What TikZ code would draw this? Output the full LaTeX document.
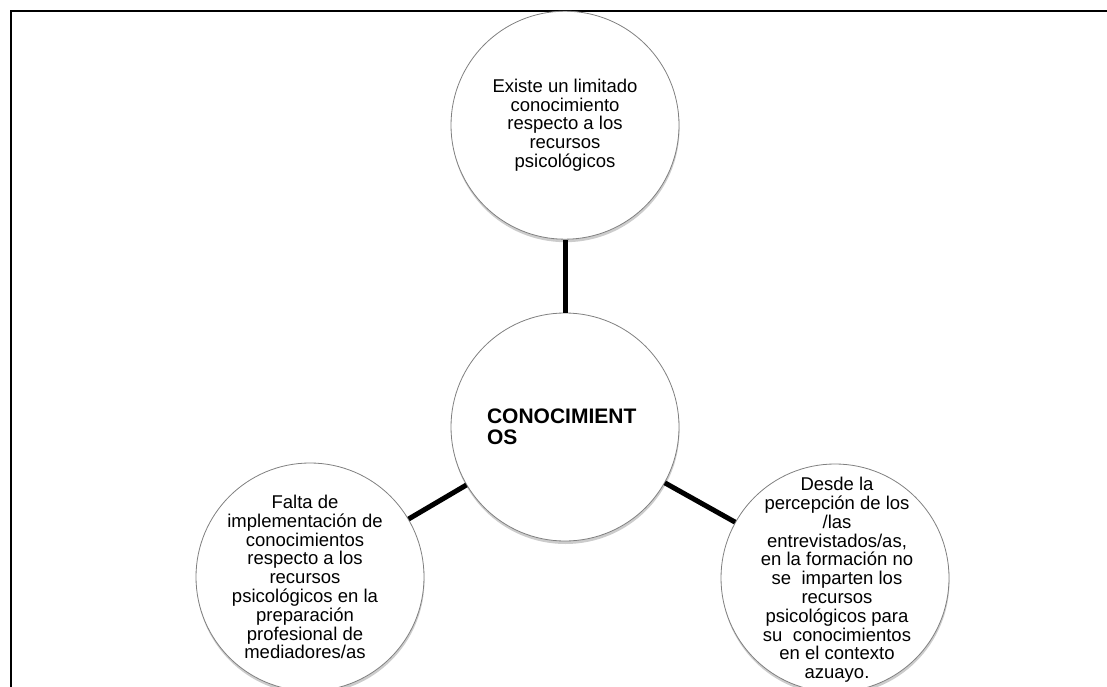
\documentclass[tikz,border=0pt]{standalone}
\usepackage{fontspec}
\setmainfont{Liberation Sans}
\usetikzlibrary{positioning, shadows}

\begin{document}
\begin{tikzpicture}[x=1pt, y=-1pt,
      idea/.style = {circle, draw=black!50, line width=0.8pt, fill=white,
                     minimum size=228pt, inner sep=0pt,
                     drop shadow={shadow xshift=0.5pt, shadow yshift=-3pt,
                                  opacity=0.4}},
      note/.style = {align=center, font=\fontsize{18.5}{18.8}\selectfont},
      link/.style = {line width=5pt}]
  \useasboundingbox (0,0) rectangle (1107,687);
  \draw[line width=2pt] (11,687) -- (11,11) -- (1107,11);

  \node[idea] (core) at (565,427) {};
  \node[idea, above=73pt of core] (top) {};
  \node[idea] (left) at (310,577) {};
  \node[idea] (right) at (835,578) {};

  \node[font=\fontsize{21}{21.3}\selectfont\bfseries, align=left,
        text width=156pt] (core-text) at (core) {CONOCIMIENT\\OS};
  \node[note] (top-text) at (top)
       {Existe un limitado\\conocimiento\\respecto a los\\recursos\\psicológicos};
  \node[note] (left-text) at ([xshift=-5pt]left)
       {Falta de\\implementación de\\conocimientos\\respecto a los\\recursos\\
        psicológicos en la\\preparación\\profesional de\\mediadores/as};
  \node[note] (right-text) at ([xshift=2pt, yshift=-2pt]right)
       {Desde la\\percepción de los\\/las\\entrevistados/as,\\en la formación no\\
        se~ imparten los\\recursos\\psicológicos para\\su~ conocimientos\\
        en el contexto\\azuayo.};

  \path[link] (core) edge (top)
                     edge (left)
                     edge (right);
\end{tikzpicture}
\end{document}
